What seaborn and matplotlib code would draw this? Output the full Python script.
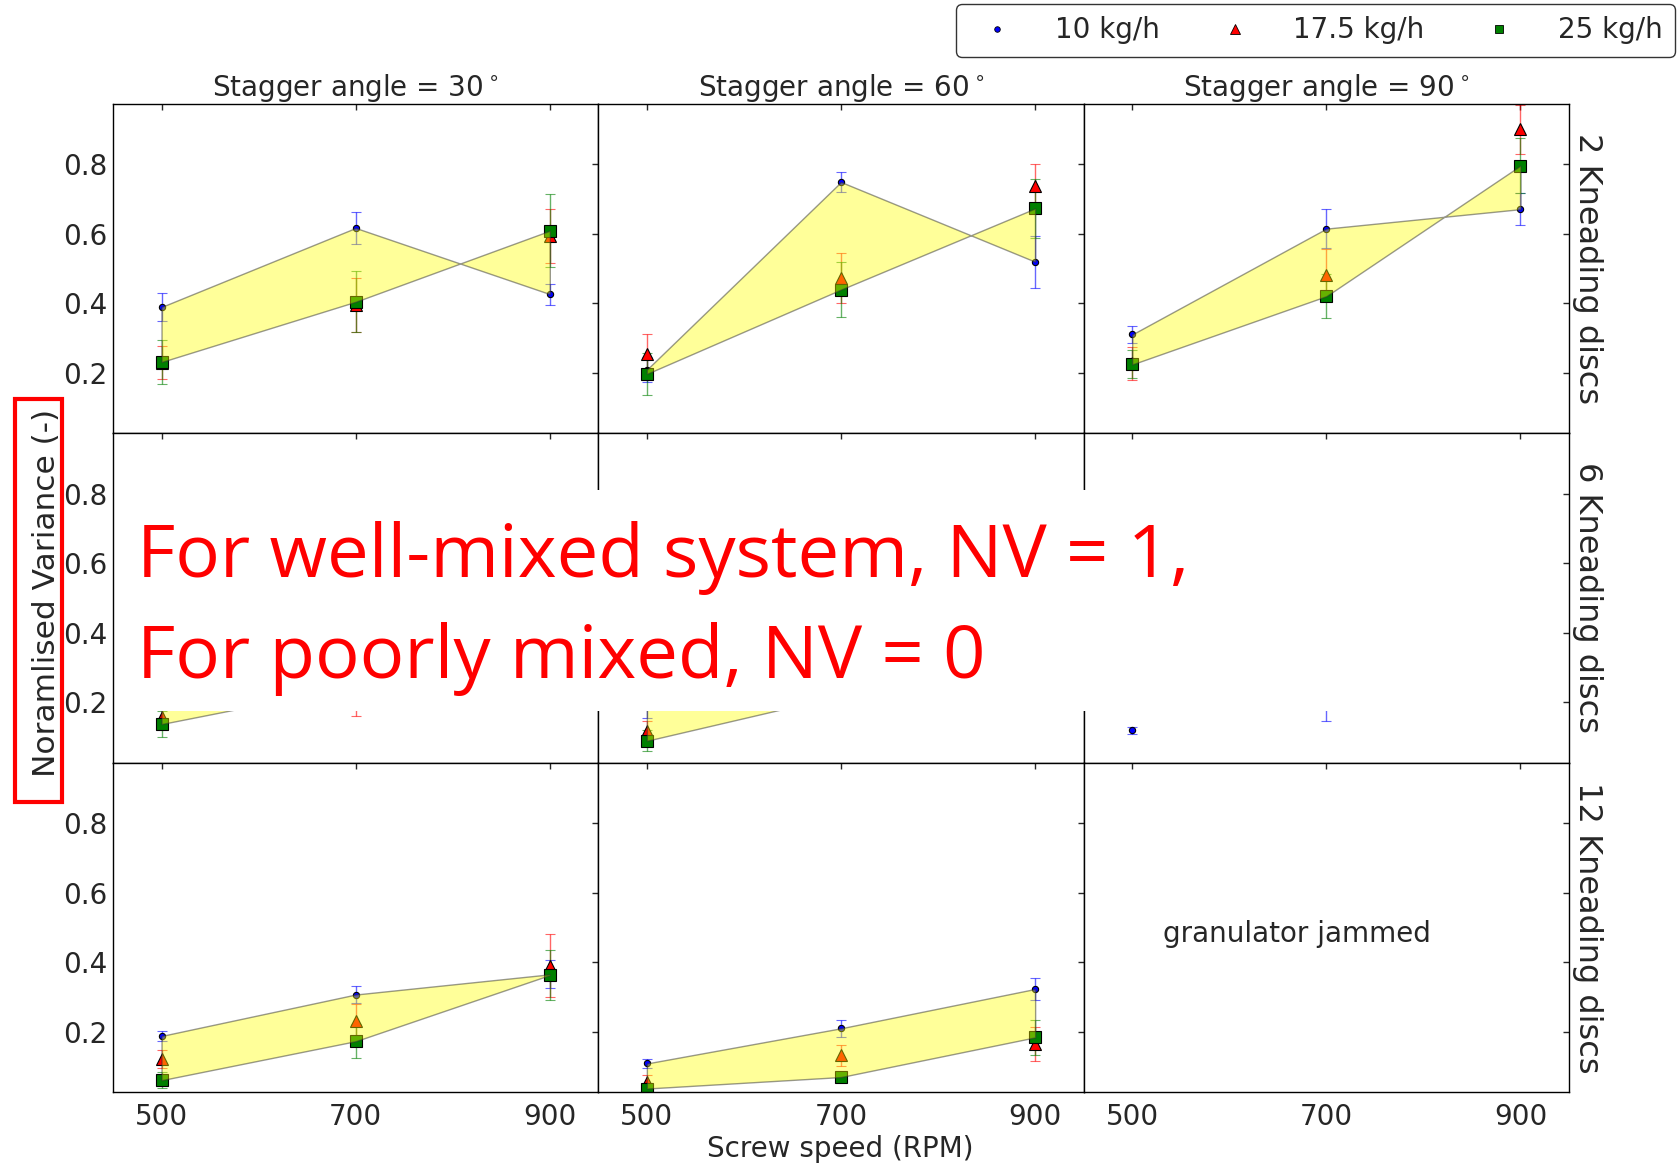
import numpy as np
import pandas as pd
import matplotlib
matplotlib.use("Agg")
import matplotlib.pyplot as plt
import seaborn as sns
from matplotlib.lines import Line2D
from matplotlib.patches import Rectangle

nan = np.nan

# ---------------- data ----------------
speeds = [500, 700, 900]
angles = [30, 60, 90]
discs = [2, 6, 12]
rates = ["10 kg/h", "17.5 kg/h", "25 kg/h"]

# rows: kneading discs (2, 6, 12); columns: stagger angle (30, 60, 90); values over speeds
nv_10 = [
    [[0.39, 0.617, 0.427], [0.21, 0.749, 0.52], [0.311, 0.615, 0.671]],
    [[0.25, 0.30, 0.35], [0.21, 0.30, 0.35], [0.12, 0.25, nan]],
    [[0.188, 0.307, 0.365], [0.109, 0.21, 0.323], [nan, nan, nan]],
]
err_10 = [
    [[0.04, 0.045, 0.03], [0.035, 0.028, 0.075], [0.025, 0.055, 0.045]],
    [[0.05, 0.06, 0.05], [0.055, 0.06, 0.05], [0.01, 0.103, nan]],
    [[0.015, 0.024, 0.04], [0.014, 0.025, 0.032], [nan, nan, nan]],
]
nv_17 = [
    [[0.23, 0.395, 0.594], [0.256, 0.472, 0.738], [0.228, 0.482, 0.90]],
    [[0.157, 0.25, 0.35], [0.118, 0.30, 0.40], [nan, nan, nan]],
    [[0.121, 0.23, 0.39], [0.056, 0.133, 0.165], [nan, nan, nan]],
]
err_17 = [
    [[0.047, 0.078, 0.078], [0.057, 0.072, 0.064], [0.047, 0.075, 0.07]],
    [[0.03, 0.09, 0.06], [0.03, 0.06, 0.06], [nan, nan, nan]],
    [[0.026, 0.05, 0.09], [0.02, 0.03, 0.05], [nan, nan, nan]],
]
nv_25 = [
    [[0.232, 0.405, 0.609], [0.198, 0.44, 0.673], [0.225, 0.421, 0.796]],
    [[0.138, 0.248, 0.30], [0.09, 0.22, 0.30], [nan, nan, nan]],
    [[0.061, 0.173, 0.363], [0.037, 0.07, 0.184], [nan, nan, nan]],
]
err_25 = [
    [[0.062, 0.087, 0.105], [0.06, 0.08, 0.085], [0.04, 0.063, 0.08]],
    [[0.037, 0.06, 0.06], [0.03, 0.035, 0.06], [nan, nan, nan]],
    [[0.023, 0.048, 0.072], [0.01, 0.015, 0.05], [nan, nan, nan]],
]

yticks = [0.2, 0.4, 0.6, 0.8]
title_col = "Stagger angle = {col_name}$^\\circ$"
title_row = "{row_name} Kneading discs"
ylabel = "Noramlised Variance (-)"
xlabel = "Screw speed (RPM)"
jam_text = "granulator jammed"
note_1 = "For well-mixed system, NV = 1,"
note_2 = "For poorly mixed, NV = 0"

# ---------------- long table ----------------
rows = []
for i, d in enumerate(discs):
    for j, a in enumerate(angles):
        for rate, m, e in zip(rates, (nv_10, nv_17, nv_25), (err_10, err_17, err_25)):
            for k, s in enumerate(speeds):
                rows.append(dict(discs=d, angle=a, rate=rate, speed=s,
                                 nv=m[i][j][k], err=e[i][j][k]))
df = pd.DataFrame(rows)

# ---------------- style ----------------
sns.set_style("white")
plt.rcParams["font.family"] = ["DejaVu Sans"]
plt.rcParams["axes.edgecolor"] = "black"
plt.rcParams["axes.linewidth"] = 1.0

styles = {
    "10 kg/h": dict(marker="o", ms=4.5, mfc="blue", ecolor=(0, 0, 1, 0.6)),
    "17.5 kg/h": dict(marker="^", ms=9, mfc="red", ecolor=(1, 0, 0, 0.6)),
    "25 kg/h": dict(marker="s", ms=8, mfc="green", ecolor=(0, 0.5, 0, 0.6)),
}


def draw_facet(data, **kws):
    ax = plt.gca()
    for rate in rates:
        sub = data[data["rate"] == rate].sort_values("speed")
        if sub["nv"].notna().any():
            st = styles[rate]
            ax.errorbar(sub["speed"], sub["nv"], yerr=sub["err"], fmt=st["marker"],
                        ms=st["ms"], mfc=st["mfc"], mec="black", mew=0.8,
                        ecolor=st["ecolor"], elinewidth=1.0, capsize=3.5, capthick=1.0,
                        zorder=2)
    lo = data[data["rate"] == "10 kg/h"].sort_values("speed")
    hi = data[data["rate"] == "25 kg/h"].sort_values("speed")
    if lo["nv"].notna().any() and hi["nv"].notna().any():
        ax.fill_between(lo["speed"].to_numpy(), lo["nv"].to_numpy(), hi["nv"].to_numpy(),
                        facecolor=(1, 1, 0, 0.4), edgecolor=(0.2, 0.2, 0.2, 0.5),
                        linewidth=1.0, zorder=3)


g = sns.FacetGrid(df, row="discs", col="angle", row_order=discs, col_order=angles,
                  margin_titles=True, sharex=True, sharey=True, height=3.5, aspect=1.4)
g.map_dataframe(draw_facet)
g.set_axis_labels("", "")
g.set_titles(col_template=title_col, row_template=title_row, size=20)

for t in g._margin_titles_texts:
    t.xyann = (1.006, 0.5)
    t.set_fontsize(23)

for ax in g.axes.flat:
    ax.set_xlim(450, 950)
    ax.set_ylim(0.027, 0.973)
    ax.set_xticks(speeds)
    ax.set_yticks(yticks)
    ax.tick_params(axis="both", direction="in", top=True, right=True, length=4,
                   width=1, labelsize=20, labeltop=False, labelright=False)
    ax.tick_params(axis="x", pad=8)
    ax.tick_params(axis="y", pad=4)
    for sp in ax.spines.values():
        sp.set_visible(True)
        sp.set_color("black")
        sp.set_linewidth(1.0)

for ax in g.axes[0, :]:
    ax.set_title(ax.get_title(), fontsize=20, pad=4)

g.axes[2, 2].text(670, 0.48, jam_text, ha="center", va="center", fontsize=20)

fig = g.figure
fig.set_size_inches(16.81, 11.67)
fig.set_dpi(100)
W, H = 1681.0, 1167.0
fig.subplots_adjust(left=113 / W, right=1569 / W, top=1 - 104 / H, bottom=1 - 1092 / H,
                    wspace=0, hspace=0)

# legend
handles = [Line2D([], [], ls="none", marker="o", ms=4, mfc="blue", mec="black", mew=0.6),
           Line2D([], [], ls="none", marker="^", ms=7, mfc="red", mec="black", mew=0.6),
           Line2D([], [], ls="none", marker="s", ms=6, mfc="green", mec="black", mew=0.6)]
leg = fig.legend(handles, rates, loc="upper right", bbox_to_anchor=(1675 / W, 1 - 4 / H),
                 ncol=3, fontsize=20, frameon=True, fancybox=True, handlelength=2.0,
                 handletextpad=1.1, columnspacing=1.7, borderaxespad=0, borderpad=0.45)
leg.get_frame().set_edgecolor("black")
leg.get_frame().set_linewidth(1.0)

# axis labels
fig.text(47 / W, 1 - 593 / H, ylabel, rotation=90, ha="center", va="center", fontsize=22.5)
fig.text(840 / W, 1 - 1149 / H, xlabel, ha="center", va="center", fontsize=20)

# annotation overlay
fig.patches.append(Rectangle((130 / W, 1 - 711 / H), (1480 - 130) / W, (711 - 490) / H,
                             transform=fig.transFigure, facecolor="white",
                             edgecolor="none", zorder=10))
fig.text(137 / W, 1 - 577 / H, note_1, ha="left", va="baseline", fontsize=53.5,
         color="red", family=["Open Sans", "DejaVu Sans"], zorder=11)
fig.text(137 / W, 1 - 678 / H, note_2, ha="left", va="baseline", fontsize=53.5,
         color="red", family=["Open Sans", "DejaVu Sans"], zorder=11)
fig.patches.append(Rectangle((15 / W, 1 - 802 / H), 47 / W, (802 - 399) / H,
                             transform=fig.transFigure, fill=False, edgecolor="red",
                             linewidth=3, zorder=12))

fig.savefig("out.png", dpi=100)
